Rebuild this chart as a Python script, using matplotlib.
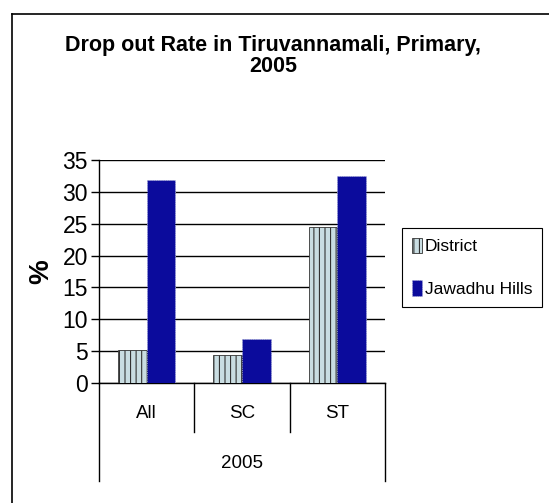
import numpy as np
import matplotlib.pyplot as plt
from matplotlib.lines import Line2D

# data
categories = ["All", "SC", "ST"]
district = [5.2, 4.4, 24.5]
jawadhu = [31.8, 6.9, 32.5]
group_label = "2005"

plt.rcParams['font.family'] = ['Liberation Sans', 'DejaVu Sans']
plt.rcParams['hatch.linewidth'] = 0.8

fig = plt.figure(figsize=(5.49, 5.03), dpi=100)
ax = fig.add_axes([0.1803, 0.2386, 0.521, 0.4433])

x = np.arange(len(categories))
w = 0.3
ax.bar(x - w / 2, district, w, facecolor="#c9dde2", edgecolor="#333333",
       hatch="|||", linewidth=0.6, label="District", zorder=3)
ax.bar(x + w / 2, jawadhu, w, facecolor="#0b0b9c", edgecolor="#aab0d8",
       linewidth=0.6, linestyle=":", label="Jawadhu Hills", zorder=3)

ax.set_xlim(-0.5, len(categories) - 0.5)
ax.set_ylim(0, 35)
ax.set_yticks(range(0, 36, 5))
ax.tick_params(axis="y", labelsize=16.5, length=6, width=1, direction="out", pad=2)
ax.yaxis.grid(True, color="black", linewidth=1)
ax.set_axisbelow(True)
ax.set_xticks([])
for s in ["top", "right"]:
    ax.spines[s].set_visible(False)
ax.spines["left"].set_linewidth(1)
ax.spines["bottom"].set_linewidth(1)

ax.set_ylabel("%", fontsize=20, fontweight="bold", labelpad=6)

# category axis with separators
trans = ax.get_xaxis_transform()
for i, c in enumerate(categories):
    ax.text(i, -0.135, c, transform=trans, ha="center", va="center", fontsize=13.5)
for b in np.arange(-0.5, len(categories), 1.0):
    outer = b in (-0.5, len(categories) - 0.5)
    ax.plot([b, b], [0, -0.44 if outer else -0.22], transform=trans,
            color="black", linewidth=1, clip_on=False)
ax.text((len(categories) - 1) / 2, -0.36, group_label, transform=trans,
        ha="center", va="center", fontsize=13.5)

fig.text(0.497, 1 - 56 / 503, "Drop out Rate in Tiruvannamali, Primary,\n2005",
         ha="center", va="center", fontsize=15.5, fontweight="bold",
         linespacing=0.95)

leg = fig.legend(loc="upper left", bbox_to_anchor=(402 / 549, 1 - 228 / 503),
                 handlelength=0.6, handleheight=1.0,
                 handletextpad=0.15, labelspacing=1.5, borderpad=0.55,
                 borderaxespad=0, fancybox=False, edgecolor="black", framealpha=1,
                 prop={"family": ["Liberation Sans", "DejaVu Sans"], "size": 12.5})
leg.get_frame().set_linewidth(0.8)

# outer page border (top and left)
fig.add_artist(Line2D([12 / 549, 12 / 549], [0, 1 - 14 / 503],
                      transform=fig.transFigure, color="black", linewidth=1.2))
fig.add_artist(Line2D([12 / 549, 1], [1 - 14 / 503, 1 - 14 / 503],
                      transform=fig.transFigure, color="black", linewidth=1.2))

fig.savefig("out.png", dpi=100)
